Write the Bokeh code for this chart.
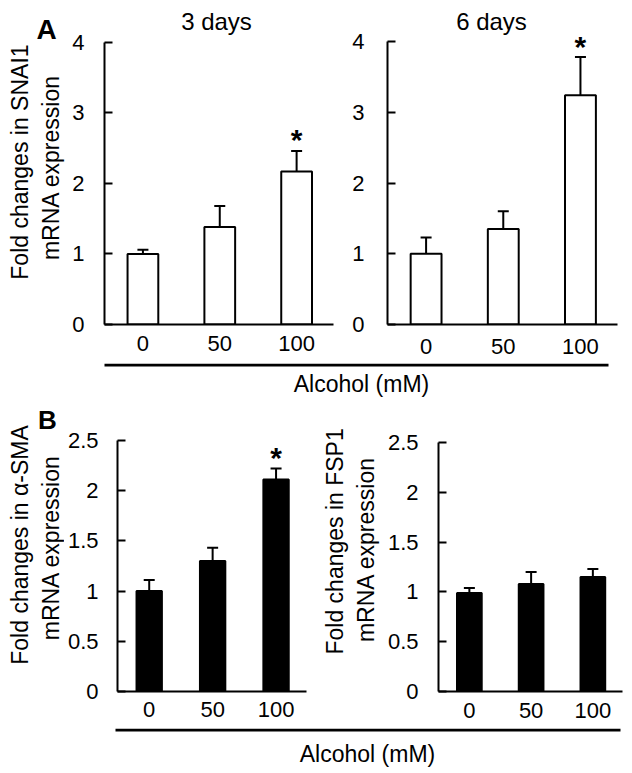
import math
from bokeh.plotting import figure
from bokeh.layouts import column, row
from bokeh.models import ColumnDataSource, Whisker, TeeHead, FixedTicker, Range1d, Label
from bokeh.core.properties import value
from bokeh.embed import file_html
from bokeh.resources import INLINE

# ---------------- data ----------------
doses = ["0", "50", "100"]

snai1_3d_mean = [1.00, 1.38, 2.17]
snai1_3d_sem = [0.06, 0.30, 0.29]
snai1_3d_sig = [False, False, True]

snai1_6d_mean = [1.00, 1.35, 3.24]
snai1_6d_sem = [0.23, 0.25, 0.54]
snai1_6d_sig = [False, False, True]

asma_mean = [1.00, 1.30, 2.11]
asma_sem = [0.11, 0.13, 0.11]
asma_sig = [False, False, True]

fsp1_mean = [0.99, 1.08, 1.15]
fsp1_sem = [0.05, 0.12, 0.08]
fsp1_sig = [False, False, False]

ticks_A = [0, 1, 2, 3, 4]
ticks_B = [0, 0.5, 1, 1.5, 2, 2.5]

FONT = "Liberation Sans"
TICK_FS = 22
LABEL_FS = 23
X0, X1 = 0.5, 3.48  # x range of each panel
BASE_SHIFT = 0.2    # rendered baseline sits ~0.2em below the anchor
ROT_SHIFT = 0.35    # same for the rotated labels


def blank(width, height, x0, y0):
    """text-only figure whose data coordinates are page pixels"""
    s = figure(width=width, height=height, x_range=Range1d(x0, x0 + width),
               y_range=Range1d(y0 + height, y0), x_axis_type=None, y_axis_type=None,
               toolbar_location=None, output_backend="svg", min_border=0)
    s.outline_line_color = None
    s.background_fill_color = "white"
    s.border_fill_color = "white"
    return s


def txt(p, x, y, text, size, bold=False, align="center", rotated=False):
    if rotated:
        x = x - ROT_SHIFT * size
    else:
        y = y - BASE_SHIFT * size
    p.add_layout(Label(x=x, y=y, text=text, text_align=align, text_baseline="alphabetic",
                       angle=math.pi / 2 if rotated else 0.0, text_font=FONT,
                       text_font_size=f"{size}px",
                       text_font_style="bold" if bold else "normal", text_color="black"))


class Panel:
    def __init__(self, mean, sem, sig, yticks, fill, fig_left, fig_top, width, height,
                 frame_left, frame_w, axis_top_px, zero_px, tick_standoff, xlab_standoff):
        self.fl, self.fw = frame_left, frame_w
        self.ft, self.fb = fig_top, zero_px
        top = yticks[-1]
        self.yend = top * (zero_px - fig_top) / (zero_px - axis_top_px)
        xs = list(range(1, len(doses) + 1))
        p = figure(width=width, height=height, x_range=Range1d(X0, X1),
                   y_range=Range1d(0, self.yend), toolbar_location=None, output_backend="svg",
                   min_border_left=frame_left - fig_left,
                   min_border_right=width - (frame_left - fig_left) - frame_w,
                   min_border_top=0, min_border_bottom=height - (zero_px - fig_top))
        p.outline_line_color = None
        p.grid.visible = False
        p.background_fill_color = "white"
        p.border_fill_color = "white"

        src = ColumnDataSource(dict(x=xs, top=mean, upper=[m + s for m, s in zip(mean, sem)]))
        p.vbar(x="x", top="top", bottom=0, width=0.4, source=src,
               fill_color=fill, line_color="black", line_width=2)
        p.add_layout(Whisker(base="x", lower="top", upper="upper", source=src,
                             upper_head=TeeHead(size=11, line_width=2, line_color="black"),
                             lower_head=None, line_width=2, line_color="black"))
        sx = [x for x, s in zip(xs, sig) if s]
        sy = [m + e for m, e, s in zip(mean, sem, sig) if s]
        if sx:
            p.text(x=sx, y=sy, text=["*"] * len(sx), text_align="center",
                   text_baseline="alphabetic", y_offset=-11,
                   text_font=value(FONT), text_font_size="30px", text_font_style="bold",
                   text_color="black")

        xa = p.xaxis[0]
        xa.ticker = FixedTicker(ticks=xs)
        xa.major_label_overrides = {x: d for x, d in zip(xs, doses)}
        xa.major_tick_in = xa.major_tick_out = 0
        xa.minor_tick_in = xa.minor_tick_out = 0
        xa.axis_line_width = 2
        xa.axis_line_color = "black"
        xa.major_label_text_font = FONT
        xa.major_label_text_font_size = f"{TICK_FS}px"
        xa.major_label_text_color = "black"
        xa.major_label_standoff = xlab_standoff

        ya = p.yaxis[0]
        ya.bounds = (yticks[0], yticks[-1])
        ya.ticker = FixedTicker(ticks=yticks)
        ya.major_label_overrides = {v: f"{v:g}" for v in yticks}
        ya.major_tick_in = 8
        ya.major_tick_out = 0
        ya.minor_tick_in = ya.minor_tick_out = 0
        ya.major_tick_line_width = 2
        ya.axis_line_width = 2
        ya.axis_line_color = "black"
        ya.major_tick_line_color = "black"
        ya.major_label_text_font = FONT
        ya.major_label_text_font_size = f"{TICK_FS}px"
        ya.major_label_text_color = "black"
        ya.major_label_standoff = tick_standoff
        self.p = p

    def label_at(self, px, py, text, size):
        """text placed inside the (extended) frame, given page pixel position"""
        py = py - BASE_SHIFT * size
        x = X0 + (px - self.fl) / self.fw * (X1 - X0)
        y = (self.fb - py) / (self.fb - self.ft) * self.yend
        self.p.add_layout(Label(x=x, y=y, text=text, text_align="center",
                                text_baseline="alphabetic", text_font=FONT,
                                text_font_size=f"{size}px", text_color="black"))


# ---- row A (page y 0..363) ----
LA = blank(69, 363, 0, 0)
A1 = Panel(snai1_3d_mean, snai1_3d_sem, snai1_3d_sig, ticks_A, "white",
           69, 0, 271, 363, 104, 229, 42, 326, 20, 11)
A2 = Panel(snai1_6d_mean, snai1_6d_sem, snai1_6d_sig, ticks_A, "white",
           340, 0, 284, 363, 387, 230, 41, 324, 23, 14)
txt(LA, 46, 38, "A", 28, bold=True)
txt(LA, 28, 181, "Fold changes in SNAI1", LABEL_FS, rotated=True)
txt(LA, 59, 187, "mRNA expression", LABEL_FS, rotated=True)
A1.label_at(216, 26, "3 days", 24)
A2.label_at(491, 26, "6 days", 24)

# ---- strip A (page y 363..397) ----
SA = blank(624, 34, 0, 363)
SA.line([104, 608], [364.5, 364.5], line_width=3, line_color="black")
txt(SA, 361, 388, "Alcohol (mM)", LABEL_FS)

# ---- row B (page y 397..728) ----
LB = blank(64, 331, 0, 397)
B1 = Panel(asma_mean, asma_sem, asma_sig, ticks_B, "black",
           64, 397, 254, 331, 117, 189, 440, 692, 19, 10)
LB2 = blank(64, 331, 318, 397)
B2 = Panel(fsp1_mean, fsp1_sem, fsp1_sig, ticks_B, "black",
           382, 397, 242, 331, 438, 184, 442, 691, 20, 11)
txt(LB, 47, 428, "B", 26, bold=True)
txt(LB, 28, 563, "Fold changes in \u03b1-SMA", LABEL_FS, rotated=True)
txt(LB, 59, 566, "mRNA expression", LABEL_FS, rotated=True)
txt(LB2, 343, 559, "Fold changes in FSP1", LABEL_FS, rotated=True)
txt(LB2, 374, 568, "mRNA expression", LABEL_FS, rotated=True)

# ---- strip B (page y 728..768) ----
SB = blank(624, 40, 0, 728)
SB.line([115, 620], [729.5, 729.5], line_width=3, line_color="black")
txt(SB, 367, 758, "Alcohol (mM)", LABEL_FS)

layout = column(row(LA, A1.p, A2.p), SA, row(LB, B1.p, LB2, B2.p), SB)
open("out.html", "w").write(file_html(layout, INLINE))
